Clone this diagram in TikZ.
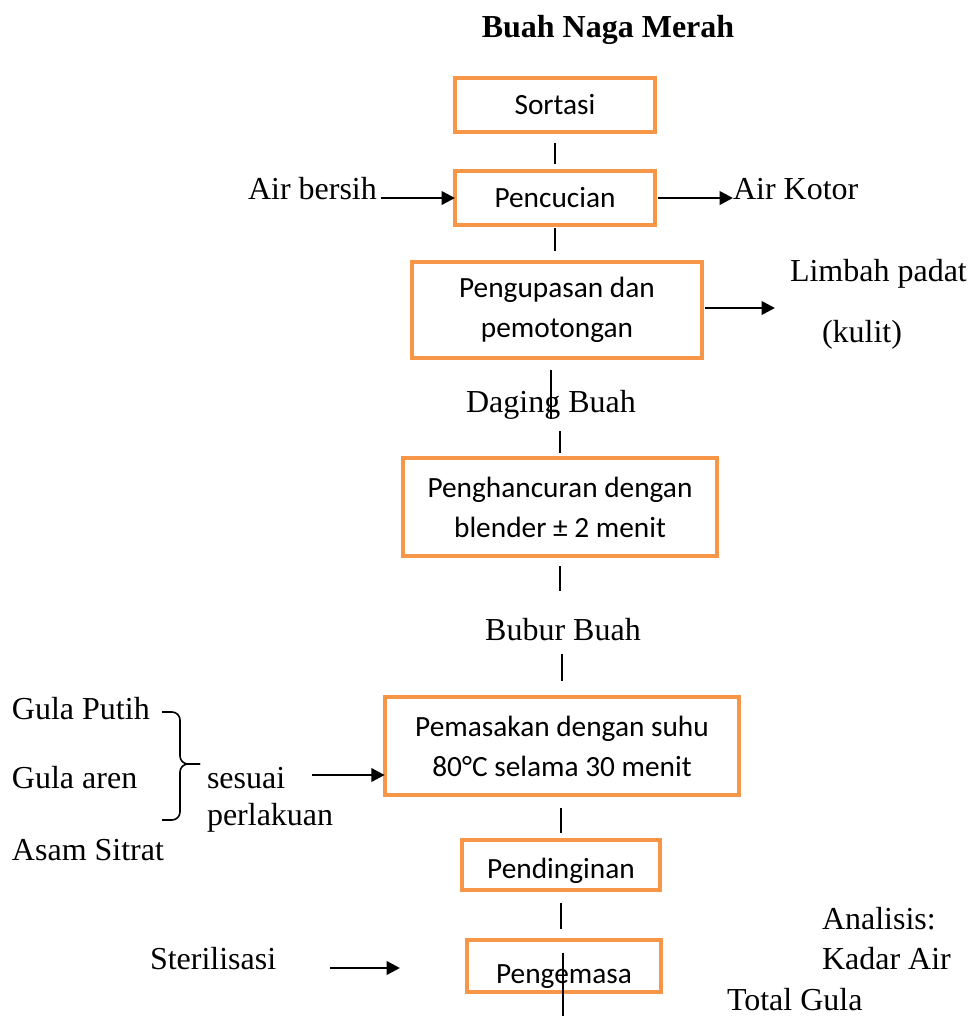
\documentclass[tikz,border=0pt]{standalone}
\usepackage{fontspec}
\setmainfont{Liberation Serif}
\newfontfamily\calibri{Carlito}
\usetikzlibrary{positioning}
\usetikzlibrary{arrows.meta}
\usepackage{xcolor}
\definecolor{oranje}{HTML}{F79646}

\begin{document}
\begin{tikzpicture}[x=0.375pt, y=-0.375pt, every node/.style={inner sep=0,outer sep=0, font=\fontsize{12}{14}\selectfont}, align=center,
		stap/.style={draw=oranje, line width=1.5pt, font=\calibri\fontsize{11}{15}\selectfont},
		lijn/.style={line width=0.75pt},
		pijl/.style={line width=1pt, -{Triangle[length=5pt,width=5pt]}}]
		
		\useasboundingbox (0,0) rectangle (970,1016);
		
		%Nodes
		\node[anchor=base] (0) at (608,37) {\textbf{Buah Naga Merah}};
		\node[stap, minimum width=75pt, minimum height=20.25pt] (1) at (555,105) {Sortasi};
		\node[stap, minimum width=75pt, minimum height=20.5pt] (2) at (555,198) {Pencucian};
		\node[stap, minimum width=108.75pt, minimum height=36pt] (3) at (557,310) {Pengupasan dan\\pemotongan};
		\node[anchor=base] (31) at (551,412) {Daging Buah};
		\node[stap, minimum width=117.75pt, minimum height=36.4pt] (4) at (560,507) {Penghancuran dengan\\blender ± 2 menit};
		\node[anchor=base] (41) at (563,640) {Bubur Buah};
		\node[stap, minimum width=133pt, minimum height=36.75pt] (5) at (562,746) {Pemasakan dengan suhu\\80°C selama 30 menit};
		\node[stap, minimum width=74pt, minimum height=18.75pt, text height=9.8pt, text depth=0pt] (6) at (561,865) {Pendinginan};
		\node[stap, minimum width=72.75pt, minimum height=19.5pt, text height=12.8pt, text depth=0pt] (7) at (564,966) {Pengemasa};
		
		\node[anchor=base west] (21) at (248,199) {Air bersih};
		\node[anchor=base west] (22) at (733,199) {Air Kotor};
		\node[anchor=base west] (32) at (790,281) {Limbah padat};
		\node[anchor=base west] (33) at (822,342) {(kulit)};
		\node[anchor=base west] (51) at (12,719) {Gula Putih};
		\node[anchor=base west] (52) at (12,788) {Gula aren};
		\node[anchor=base west] (53) at (12,860) {Asam Sitrat};
		\node[anchor=base west] (54) at (207,788) {sesuai};
		\node[anchor=base west] (55) at (207,825) {perlakuan};
		\node[anchor=base west] (71) at (150,969) {Sterilisasi};
		\node[anchor=base west] (72) at (822,929) {Analisis:};
		\node[anchor=base west] (73) at (822,969) {Kadar Air};
		\node[anchor=base west] (74) at (727,1010) {Total Gula};
		
		\coordinate (34) at (775,308);
		\coordinate (56) at (162,712);
		\coordinate (57) at (162,820);
		\coordinate (58) at (312,775);
		\coordinate (75) at (330,968);
		\coordinate (76) at (400,968);
		\coordinate (77) at (563,1016);
		
		%Lines
		\draw[lijn, shorten <=4pt, shorten >=2.6pt] (1.south) -- (2.north);
		\draw[lijn, shorten <=1pt, shorten >=4pt] (2.south) -- (2.south |- 3.north);
		\draw[lijn, shorten <=4.5pt] (3.south -| 31.south) -- (31.south);
		\draw[lijn, shorten <=4.5pt, shorten >=2pt] (31.south -| 4.north) -- (4.north);
		\draw[lijn, shorten <=4pt, shorten >=10pt] (4.south) -- (4.south |- 41.north);
		\draw[line width=1.1pt, shorten <=5pt, shorten >=6pt] (41.south -| 5.north) -- (5.north);
		\draw[lijn, shorten <=5pt, shorten >=2.6pt] (5.south -| 6.north) -- (6.north);
		\draw[lijn, shorten <=5pt, shorten >=4pt] (6.south) -- (6.south |- 7.north);
		\draw[lijn] (7.south -| 77) -- (77);
		\draw[line width=0.4pt] ([yshift=5pt]7.center -| 77) -- (7.south -| 77);
		
		\draw[pijl, shorten <=1.5pt] (21.east |- 2.west) -- (2.west);
		\draw[pijl, shorten <=1pt] (2.east) -- (22.west |- 2.east);
		\draw[pijl, shorten <=1pt] (3.east |- 34) -- (34);
		\draw[line width=0.6pt, rounded corners=3pt] (56) -- ++(18,0) -- ++(0,52) -- ++(20,0);
		\draw[line width=0.6pt, rounded corners=3pt] (57) -- ++(18,0) -- ++(0,-56) -- ++(20,0);
		\draw[pijl] (58) -- (58 -| 5.west);
		\draw[pijl] (75) -- (76);
	\end{tikzpicture}
\end{document}
